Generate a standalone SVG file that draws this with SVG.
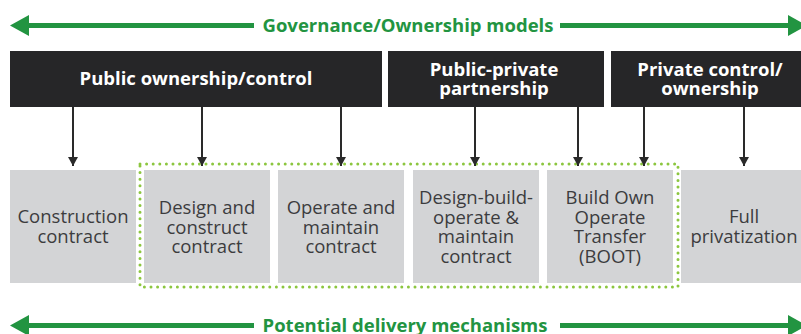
<svg xmlns="http://www.w3.org/2000/svg" width="801" height="334" viewBox="0 0 801 334">
<style>
.green{fill:#229441;}
.gline{stroke:#229441;stroke-width:5;fill:none;}
.gtxt{font-family:"Open Sans","Noto Sans",sans-serif;font-weight:bold;font-size:18.5px;fill:#229441;}
.dark{fill:#262628;}
.htxt{font-family:"Open Sans","Noto Sans",sans-serif;font-weight:bold;font-size:18.5px;fill:#ffffff;text-anchor:middle;}
.box{fill:#d3d4d6;}
.btxt{font-family:"Open Sans","Noto Sans",sans-serif;font-size:18.5px;fill:#3c3c3e;text-anchor:middle;}
.conn{stroke:#2a2a2a;stroke-width:2;fill:none;}
.dots{fill:none;stroke:#8cc63f;stroke-width:3;stroke-linecap:round;stroke-dasharray:0 6.6;}
</style>
<defs>
<marker id="ah" markerWidth="9" markerHeight="10" refX="9" refY="5" orient="auto" markerUnits="userSpaceOnUse" viewBox="0 0 9 10">
<path d="M0,0 L9,5 L0,10 Z" fill="#2a2a2a"/>
</marker>
</defs>

<g id="governance-axis">
<line class="gline" x1="28" y1="25.5" x2="254" y2="25.5"/>
<path class="green" d="M10,25.5 L29,15 L29,36 Z"/>
<line class="gline" x1="560" y1="25.5" x2="790" y2="25.5"/>
<path class="green" d="M807,25.5 L788,15 L788,36 Z"/>
<text class="gtxt" x="408" y="31.5" text-anchor="middle">Governance/Ownership models</text>
</g>

<g id="public-ownership">
<rect class="dark" x="10" y="51" width="372" height="56"/>
<text class="htxt" x="196" y="85">Public ownership/control</text>
</g>
<g id="public-private">
<rect class="dark" x="388" y="51" width="216" height="56"/>
<text class="htxt" x="494" y="76">Public-private</text>
<text class="htxt" x="494" y="95">partnership</text>
</g>
<g id="private-control">
<rect class="dark" x="611" y="51" width="195" height="56"/>
<text class="htxt" x="710" y="76">Private control/</text>
<text class="htxt" x="710" y="95">ownership</text>
</g>

<g id="delivery-group">
<rect class="dots" x="140" y="164" width="538" height="123"/>
</g>

<g id="construction-contract">
<rect class="box" x="10" y="170" width="126" height="113"/>
<text class="btxt" x="73" y="223">Construction</text>
<text class="btxt" x="73" y="242.5">contract</text>
</g>
<g id="design-construct">
<rect class="box" x="144" y="170" width="126" height="113"/>
<text class="btxt" x="207" y="214">Design and</text>
<text class="btxt" x="207" y="233.5">construct</text>
<text class="btxt" x="207" y="253">contract</text>
</g>
<g id="operate-maintain">
<rect class="box" x="278" y="170" width="126" height="113"/>
<text class="btxt" x="341" y="214">Operate and</text>
<text class="btxt" x="341" y="233.5">maintain</text>
<text class="btxt" x="341" y="253">contract</text>
</g>
<g id="dbom">
<rect class="box" x="413" y="170" width="126" height="113"/>
<text class="btxt" x="476" y="204">Design-build-</text>
<text class="btxt" x="476" y="223.5">operate &amp;</text>
<text class="btxt" x="476" y="243">maintain</text>
<text class="btxt" x="476" y="262.5">contract</text>
</g>
<g id="boot">
<rect class="box" x="547" y="170" width="126" height="113"/>
<text class="btxt" x="610" y="204">Build Own</text>
<text class="btxt" x="610" y="223.5">Operate</text>
<text class="btxt" x="610" y="243">Transfer</text>
<text class="btxt" x="610" y="262.5">(BOOT)</text>
</g>
<g id="full-privatization">
<rect class="box" x="681" y="170" width="126" height="113"/>
<text class="btxt" x="744" y="223">Full</text>
<text class="btxt" x="744" y="242.5">privatization</text>
</g>

<g id="connectors">
<line class="conn" x1="73" y1="107" x2="73" y2="166" marker-end="url(#ah)"/>
<line class="conn" x1="202" y1="107" x2="202" y2="166" marker-end="url(#ah)"/>
<line class="conn" x1="341" y1="107" x2="341" y2="166" marker-end="url(#ah)"/>
<line class="conn" x1="475" y1="107" x2="475" y2="166" marker-end="url(#ah)"/>
<line class="conn" x1="578" y1="107" x2="578" y2="166" marker-end="url(#ah)"/>
<line class="conn" x1="644" y1="107" x2="644" y2="166" marker-end="url(#ah)"/>
<line class="conn" x1="744" y1="107" x2="744" y2="166" marker-end="url(#ah)"/>
</g>

<g id="delivery-axis">
<line class="gline" x1="28" y1="325.5" x2="254" y2="325.5"/>
<path class="green" d="M10,325.5 L29,315 L29,336 Z"/>
<line class="gline" x1="560" y1="325.5" x2="790" y2="325.5"/>
<path class="green" d="M807,325.5 L788,315 L788,336 Z"/>
<text class="gtxt" x="405" y="331.5" text-anchor="middle">Potential delivery mechanisms</text>
</g>
</svg>
